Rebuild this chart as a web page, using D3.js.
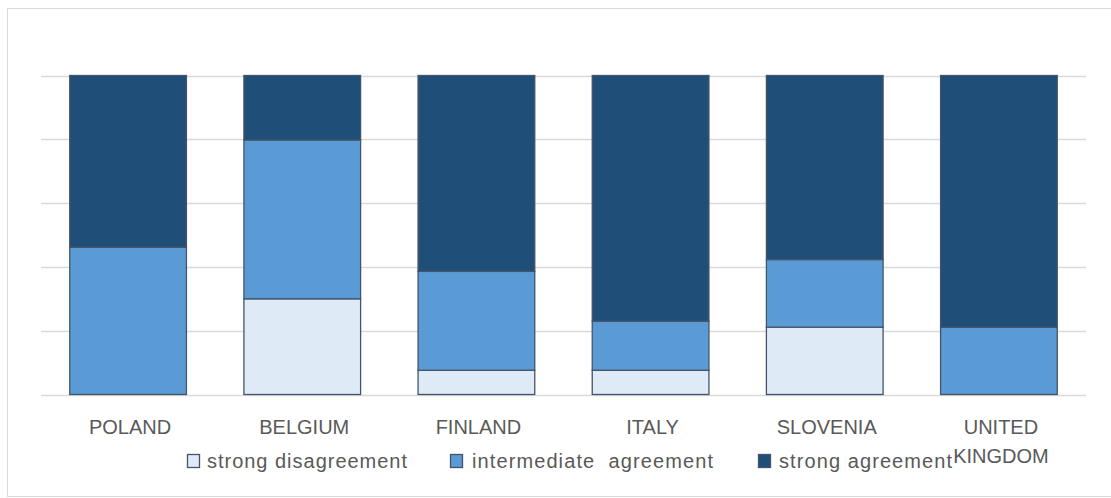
<!DOCTYPE html>
<html>
<head>
<meta charset="utf-8">
<script src="https://cdn.jsdelivr.net/npm/d3@7"></script>
<style>
  html, body { margin: 0; padding: 0; background: #fff; }
  svg { display: block; }
  text { font-family: "Liberation Sans", Arial, sans-serif; fill: #595959; }
</style>
</head>
<body>
<svg id="chart" width="1111" height="498"></svg>
<script>
const categories = ["POLAND", "BELGIUM", "FINLAND", "ITALY", "SLOVENIA", "UNITED KINGDOM"];
const seriesNames = ["strong disagreement", "intermediate  agreement", "strong agreement"];
const strongDisagreement = [0, 30.0, 7.6, 7.6, 21.1, 0];
const intermediateAgreement = [46.2, 49.8, 31.0, 15.4, 21.2, 21.1];
const strongAgreement = [53.8, 20.2, 61.4, 77.0, 57.7, 78.9];
const yTicks = [0, 20, 40, 60, 80, 100];

const colors = ["#deeaf6", "#5b9bd5", "#1f4e79"];
const keys = ["d", "i", "s"];

const rows = categories.map((c, idx) => ({
  cat: c,
  d: strongDisagreement[idx],
  i: intermediateAgreement[idx],
  s: strongAgreement[idx]
}));

const svg = d3.select("#chart");

// outer frame
svg.append("rect")
  .attr("x", 7.5).attr("y", 8.5)
  .attr("width", 1120).attr("height", 488)
  .attr("fill", "none").attr("stroke", "#d9d9d9").attr("stroke-width", 1);

const x = d3.scaleBand().domain(categories).range([41, 1086])
  .paddingInner(0.33).paddingOuter(0.165);
const y = d3.scaleLinear().domain([0, 100]).range([394.5, 75.5]);

// gridlines
svg.append("g").selectAll("line").data(yTicks).join("line")
  .attr("x1", 41).attr("x2", 1086)
  .attr("y1", d => Math.round(y(d)) + 0.5).attr("y2", d => Math.round(y(d)) + 0.5)
  .attr("stroke", "#d9d9d9").attr("stroke-width", 1.3);

const stacked = d3.stack().keys(keys)(rows);

svg.append("g").selectAll("g").data(stacked).join("g")
  .attr("fill", (d, i) => colors[i])
  .selectAll("rect").data(d => d.filter(p => p[1] - p[0] > 0)).join("rect")
  .attr("x", d => x(d.data.cat))
  .attr("width", x.bandwidth())
  .attr("y", d => y(d[1]))
  .attr("height", d => y(d[0]) - y(d[1]))
  .attr("stroke", "#44546a")
  .attr("stroke-width", 1.3);

// category labels (x axis, no line)
const labelG = svg.append("g");
categories.forEach(c => {
  const words = c === "UNITED KINGDOM" ? ["UNITED", "KINGDOM"] : [c];
  const t = labelG.append("text")
    .attr("text-anchor", "middle")
    .attr("font-size", 20)
    .attr("x", x(c) + x.bandwidth() / 2 + 2)
    .attr("y", 434);
  words.forEach((w, k) => {
    t.append("tspan").attr("x", x(c) + x.bandwidth() / 2 + 2)
      .attr("dy", k === 0 ? 0 : 29).text(w);
  });
});

// legend
const legendItems = [
  { name: seriesNames[0], color: colors[0], sx: 187, tx: 207, tw: 200 },
  { name: seriesNames[1], color: colors[1], sx: 450, tx: 472, tw: 241 },
  { name: seriesNames[2], color: colors[2], sx: 758, tx: 779, tw: 173 }
];
const lg = svg.append("g");
legendItems.forEach(it => {
  lg.append("rect")
    .attr("x", it.sx + 0.5).attr("y", 454.5)
    .attr("width", 12).attr("height", 13)
    .attr("fill", it.color).attr("stroke", "#44546a").attr("stroke-width", 1.3);
  lg.append("text")
    .attr("x", it.tx).attr("y", 468)
    .attr("font-size", 20)
    .attr("textLength", it.tw)
    .attr("lengthAdjust", "spacing")
    .attr("xml:space", "preserve")
    .style("white-space", "pre")
    .text(it.name);
});
</script>
</body>
</html>
